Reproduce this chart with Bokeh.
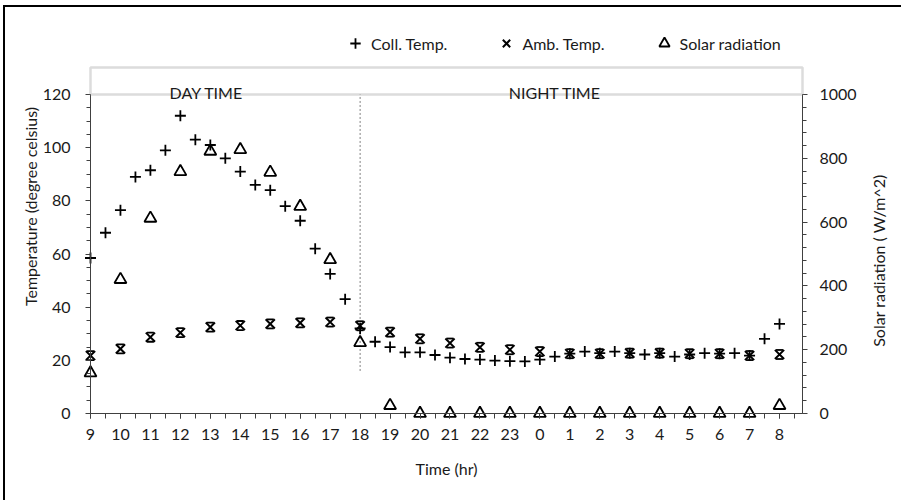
import math
from bokeh.plotting import figure
from bokeh.models import (Range1d, LinearAxis, FixedTicker, Legend, LegendItem,
                          BoxAnnotation, Label, ColumnDataSource)
from bokeh.transform import dodge
from bokeh.embed import file_html
from bokeh.resources import INLINE

# ---------------- data ----------------
hour_labels = ["9", "10", "11", "12", "13", "14", "15", "16", "17", "18", "19", "20",
               "21", "22", "23", "0", "1", "2", "3", "4", "5", "6", "7", "8"]
hour_pos = [0, 1, 2, 3, 4, 5, 6, 7, 8, 9, 10, 11, 12, 13, 14, 15, 16, 17, 18, 19, 20, 21, 22, 23]

coll_pos = [0, 0.5, 1, 1.5, 2, 2.5, 3, 3.5, 4, 4.5, 5, 5.5, 6, 6.5, 7, 7.5, 8, 8.5,
            9, 9.5, 10, 10.5, 11, 11.5, 12, 12.5, 13, 13.5, 14, 14.5, 15, 15.5, 16, 16.5,
            17, 17.5, 18, 18.5, 19, 19.5, 20, 20.5, 21, 21.5, 22, 22.5, 23]
coll_temp = [58.5, 68, 76.5, 89, 91.5, 99, 112, 103, 101, 96, 91, 86, 84, 78, 72.5, 62, 52.5, 43,
             32, 27, 25, 23, 23, 22, 21, 20.5, 20.3, 19.9, 19.7, 19.6, 20.3, 21.4, 22.5, 23.3,
             22.7, 23.3, 22.7, 22.2, 22.7, 21.4, 22.2, 22.7, 22.5, 22.7, 21.8, 28.1, 33.7]

amb_temp = [21.8, 24.3, 28.7, 30.4, 32.5, 33.1, 33.7, 34.1, 34.4, 33.0, 30.6, 28.1,
            26.5, 24.9, 24.0, 23.3, 22.5, 22.5, 22.7, 22.7, 22.5, 22.5, 21.8, 22.2]

solar_rad = [127, 420, 612, 758, 822, 827, 756, 649, 482, 222, 25, 0,
             0, 0, 0, 0, 0, 0, 0, 0, 0, 0, 0, 25]

temp_ticks = [0, 20, 40, 60, 80, 100, 120]
solar_ticks = [0, 200, 400, 600, 800, 1000]
period_labels = ["DAY TIME", "NIGHT TIME"]
period_pos = [3.87, 15.5]
divider_pos = [9]
divider_bottom = [16]
divider_top = [120]

# ---------------- layout constants ----------------
W, H = 898, 495
FT = 21
frame_h = H - FT
px_per_hr = 29.957
px_left = 85.0      # pixels of frame left of the temperature axis
axis_px = 712.0     # pixels from the left axis to the right axis
px_top = 319.0      # pixels from 0 to 120 on the left axis
px_box = 346.0      # pixels from 0 to the top of the header box
px_below = 89.0     # pixels of frame below the time axis
u = 120 / px_top    # temperature units per pixel
x_start = -px_left / px_per_hr
x_end = (W - px_left) / px_per_hr
x_axis_end = axis_px / px_per_hr
y_start = -px_below * u
y_end = (frame_h - px_below) * u
s_start = y_start * 1000 / 120
s_end = y_end * 1000 / 120
box_top = px_box * u
rtitle_x = 788 / px_per_hr
rtitle_y = 153 * u
ltitle_x = -60 / px_per_hr
ltitle_y = 207 * u
xtitle_x = 356 / px_per_hr
xtitle_y = -55 * u

FONT = "Lato"
TXT = "#1a1a1a"
AX = "#404040"

p = figure(width=W, height=H, output_backend="svg", toolbar_location=None,
           x_range=Range1d(x_start, x_end), y_range=Range1d(y_start, y_end),
           min_border_left=0, min_border_right=0, min_border_top=FT, min_border_bottom=0)
p.extra_y_ranges = {"solar": Range1d(s_start, s_end)}
p.xgrid.visible = False
p.ygrid.visible = False
p.outline_line_color = None
p.background_fill_color = "white"
p.border_fill_color = "white"
p.styles = {"margin-left": "3px", "margin-top": "5px",
            "border-left": "2px solid black", "border-top": "2px solid black"}

# x axis (drawn at temperature 0)
xa = p.xaxis[0]
xa.ticker = FixedTicker(ticks=hour_pos, minor_ticks=[i / 2 for i in range(48)])
xa.major_label_overrides = {pos: lab for pos, lab in zip(hour_pos, hour_labels)}
xa.bounds = (0, x_axis_end)
xa.fixed_location = 0

# left axis (drawn at the start of the time axis)
ya = p.yaxis[0]
ya.ticker = FixedTicker(ticks=temp_ticks, minor_ticks=list(range(0, 121, 5)))
ya.bounds = (0, 120)
ya.fixed_location = 0

# right axis (drawn at the end of the time axis)
ra = LinearAxis(y_range_name="solar",
                ticker=FixedTicker(ticks=solar_ticks, minor_ticks=list(range(0, 1001, 40))),
                bounds=(0, 1000), fixed_location=x_axis_end)
p.add_layout(ra, "right")

for ax in (xa, ya, ra):
    ax.axis_line_color = AX
    ax.major_tick_line_color = AX
    ax.minor_tick_line_color = AX
    ax.major_tick_in = 0
    ax.minor_tick_in = 0
    ax.major_tick_out = 5
    ax.minor_tick_out = 4
    ax.major_label_text_font = FONT
    ax.major_label_text_font_size = "16px"
    ax.major_label_text_color = TXT
xa.minor_tick_out = 5
xa.major_label_standoff = 10
ya.major_label_standoff = 15
ra.major_label_standoff = 12

# axis titles
p.add_layout(Label(x=ltitle_x, y=ltitle_y, text="Temperature (degree celsius)",
                   angle=math.pi / 2, text_align="center", text_baseline="middle",
                   text_font=FONT, text_font_size="16px", text_color=TXT))
p.add_layout(Label(x=rtitle_x, y=rtitle_y, text="Solar radiation ( W/m^2)",
                   angle=math.pi / 2, text_align="center", text_baseline="middle",
                   text_font=FONT, text_font_size="16px", text_color=TXT))
p.add_layout(Label(x=xtitle_x, y=xtitle_y, text="Time (hr)",
                   text_align="center", text_baseline="middle",
                   text_font=FONT, text_font_size="16px", text_color=TXT))

# header box and labels
p.add_layout(BoxAnnotation(bottom=120, top=box_top, left=0, right=x_axis_end, fill_alpha=0,
                           line_color="#8c8c8c", line_width=2.5))
for lab, pos in zip(period_labels, period_pos):
    p.add_layout(Label(x=pos, y=120, y_offset=2, text=lab, text_align="center",
                       text_baseline="alphabetic", text_font=FONT, text_font_size="16px",
                       text_color=TXT))

# divider
p.segment(x0=divider_pos, y0=divider_bottom, x1=divider_pos, y1=divider_top,
          line_color="#808080", line_width=1, line_dash="2 2")

# series
coll_src = ColumnDataSource(dict(x=coll_pos, y=coll_temp))
amb_src = ColumnDataSource(dict(x=hour_pos, y=amb_temp))
sol_src = ColumnDataSource(dict(x=hour_pos, y=solar_rad))

r_sol = p.scatter("x", "y", source=sol_src, y_range_name="solar", marker="triangle",
                  size=12, fill_color=None, line_color="black", line_width=1.8)
r_amb = p.scatter("x", "y", source=amb_src, marker="x", size=13,
                  line_color="black", line_width=2)
p.scatter("x", dodge("y", 1.7), source=amb_src, marker="dash", size=7,
          line_color="black", line_width=1.8)
p.scatter("x", dodge("y", -1.7), source=amb_src, marker="dash", size=7,
          line_color="black", line_width=1.8)
r_coll = p.scatter("x", "y", source=coll_src, marker="cross", size=11,
                   line_color="black", line_width=1.8)

legend = Legend(items=[LegendItem(label="Coll. Temp.", renderers=[r_coll]),
                       LegendItem(label="Amb. Temp.", renderers=[r_amb]),
                       LegendItem(label="Solar radiation", renderers=[r_sol])],
                orientation="horizontal", location=(337, 446),
                border_line_color=None, background_fill_alpha=0,
                label_text_font=FONT, label_text_font_size="16px", label_text_color=TXT,
                glyph_width=26, glyph_height=26, label_standoff=3, spacing=46,
                padding=0, margin=0)
p.add_layout(legend, "center")

open("out.html", "w").write(file_html(p, INLINE))
